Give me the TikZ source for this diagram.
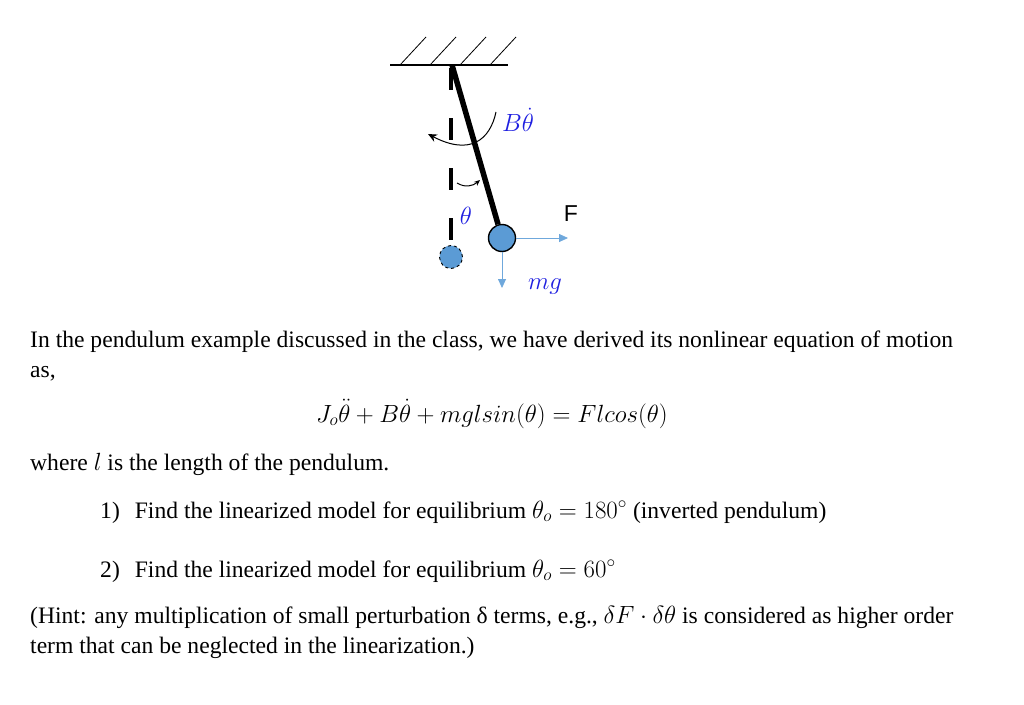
\documentclass[tikz,border=0pt]{standalone}
\usepackage{fontspec}
\setmainfont{Liberation Serif}
\setsansfont{Liberation Sans}
\usetikzlibrary{arrows.meta}
\definecolor{bob}{HTML}{5B9BD5}
\definecolor{arr}{HTML}{6FA8DC}
\definecolor{lbl}{HTML}{1F1FE0}
\tikzset{txt/.style={anchor=base west,inner sep=0pt,font=\fontsize{23.6}{28}\selectfont},
 lab/.style={text=lbl,font=\fontsize{30}{34}\selectfont,inner sep=0pt}}
\begin{document}
\begin{tikzpicture}[x=1pt,y=-1pt]
\useasboundingbox (0,0) rectangle (1024,704);
% ceiling
\coordinate (cl) at (390,65); \coordinate (cr) at (508,65);
\draw[line width=1.6pt] (cl) -- (cr);
\foreach \h in {400,430,460,490}{\draw[line width=0.8pt] (\h,65) -- (\h+26,37);}
% dashed reference
\coordinate (pv) at (451,65); \coordinate (pb) at (451,245);
\draw[line width=4.5pt,dash pattern=on 22pt off 28pt,dash phase=-3pt] (pv) -- (pb);
\node[circle,fill=bob,draw,dashed,line width=0.9pt,minimum size=23pt,inner sep=0pt] (db) at (451,257) {};
% rod
\coordinate (pivot) at (452,65);
\node[circle,fill=bob,draw,line width=1.4pt,minimum size=27pt,inner sep=0pt] (b) at (502,238) {};
\draw[line width=5.5pt] (pivot) -- (b);
% forces
\coordinate (fe) at (568,238); \coordinate (me) at (502,288);
\draw[arr,line width=0.8pt,-{Triangle[length=9pt,width=8pt]}] (b.east) -- (fe);
\draw[arr,line width=0.8pt,-{Triangle[length=9pt,width=8pt]}] (b.south) -- (me);
\node[font=\sffamily\fontsize{23}{26}\selectfont] (F) at (571,214) {F};
\node[lab] (mg) at (545,287) {$mg$};
\node[lab] (Bt) at (518,120) {$B\dot\theta$};
\node[lab] (th) at (466,216) {$\theta$};
% moment arrow
\draw[line width=1pt,-{Stealth[length=9pt,width=8pt]}] (496,112) .. controls (490,140) and (470,156) .. (428,134);
% theta arc
\draw[line width=1pt,-{Stealth[length=6pt,width=5pt]}] (457,183) .. controls (465,188) and (473,186) .. (480,180);
% text
\node[txt] (t1) at (30,347) {In the pendulum example discussed in the class, we have derived its nonlinear equation of motion};
\node[txt] (t2) at (30,377) {as,};
\node[txt] (eq) at (316,422) {$J_o\ddot\theta + B\dot\theta + mglsin(\theta) = Flcos(\theta)$};
\node[txt] (t3) at (30,470) {where $l$ is the length of the pendulum.};
\node[txt] (t4) at (100,518) {1)\hspace{15pt}Find the linearized model for equilibrium $\theta_o=180^\circ$ (inverted pendulum)};
\node[txt] (t5) at (100,577) {2)\hspace{15pt}Find the linearized model for equilibrium $\theta_o=60^\circ$};
\node[txt] (t6) at (30,623) {(Hint: any multiplication of small perturbation δ terms, e.g., $\delta F\cdot\delta\theta$ is considered as higher order};
\node[txt] (t7) at (30,653) {term that can be neglected in the linearization.)};
\end{tikzpicture}
\end{document}
